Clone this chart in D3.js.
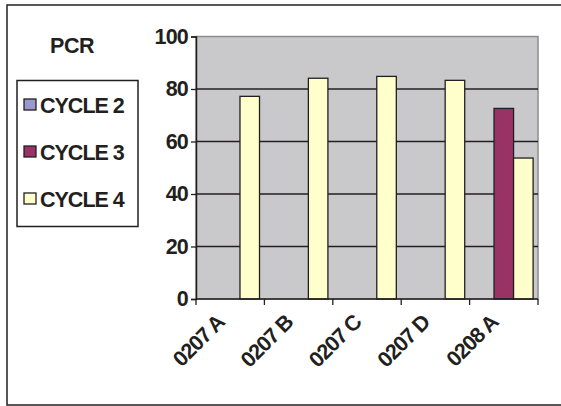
<!DOCTYPE html>
<html><head><meta charset="utf-8">
<script src="https://cdn.jsdelivr.net/npm/d3@7"></script>
<style>body{margin:0;background:#fff}svg{display:block}text{font-family:"Liberation Sans",Arial,sans-serif;font-weight:bold;fill:#231f20}</style>
</head><body>
<svg id="c" width="561" height="406"></svg>
<script>
const categories = ["0207 A","0207 B","0207 C","0207 D","0208 A"];
const seriesNames = ["CYCLE 2","CYCLE 3","CYCLE 4"];
const cycle2 = [null,null,null,null,null];
const cycle3 = [null,null,null,null,72.6];
const cycle4 = [77.2,84.1,84.8,83.3,53.7];
const yTicks = [0,20,40,60,80,100];
const colors = ["#9999cc","#993366","#ffffcc"];
const title = "PCR";

const svg = d3.select("#c");
const L=196,R=538,T=36.5,B=299;
const FS="21.5px";
// outer frame
svg.append("rect").attr("x",7).attr("y",5).attr("width",560).attr("height",400)
  .attr("fill","#fff").attr("stroke","#231f20").attr("stroke-width",1.5);

const x = d3.scaleBand().domain(categories).range([L,R]).paddingInner(0).paddingOuter(0);
const xs = d3.scaleBand().domain(seriesNames).range([0,x.bandwidth()]).paddingInner(0).paddingOuter(0.25);
const y = d3.scaleLinear().domain([0,100]).range([B,T]);

svg.append("rect").attr("x",L).attr("y",T).attr("width",R-L).attr("height",B-T)
  .attr("fill","#c9c9cb").attr("stroke","#8c8c8c").attr("stroke-width",1.5);

// gridlines
svg.append("g").selectAll("line").data(yTicks.filter(d=>d>0&&d<100)).join("line")
  .attr("x1",L).attr("x2",R).attr("y1",d=>y(d)).attr("y2",d=>y(d))
  .attr("stroke","#231f20").attr("stroke-width",1.3);

const series=[cycle2,cycle3,cycle4];
series.forEach((vals,si)=>{
  svg.append("g").selectAll("rect").data(categories.map((c,i)=>({c,v:vals[i]})).filter(d=>d.v!=null)).join("rect")
    .attr("x",d=>x(d.c)+xs(seriesNames[si]))
    .attr("width",xs.bandwidth())
    .attr("y",d=>y(d.v)).attr("height",d=>y(0)-y(d.v))
    .attr("fill",colors[si]).attr("stroke","#231f20").attr("stroke-width",1.3);
});

// y axis
const ya = svg.append("g").attr("transform",`translate(${L},0)`)
  .call(d3.axisLeft(y).tickValues(yTicks).tickSize(5).tickPadding(3));
ya.select(".domain").attr("stroke","#231f20").attr("stroke-width",1.5);
ya.selectAll(".tick line").attr("stroke","#231f20").attr("stroke-width",1.3);
ya.selectAll("text").attr("font-size",FS).attr("letter-spacing","-0.8px").style("font-family","Liberation Sans, Arial").style("font-weight","bold").attr("fill","#231f20");

// x axis
const xa = svg.append("g").attr("transform",`translate(0,${B})`);
xa.append("line").attr("x1",L).attr("x2",R).attr("stroke","#231f20").attr("stroke-width",1.5);
xa.selectAll("line.t").data(d3.range(categories.length+1)).join("line").attr("class","t")
  .attr("x1",i=>L+i*x.bandwidth()).attr("x2",i=>L+i*x.bandwidth()).attr("y1",0).attr("y2",6)
  .attr("stroke","#231f20").attr("stroke-width",1.3);
xa.selectAll("text").data(categories).join("text")
  .attr("transform",d=>`translate(${x(d)+x.bandwidth()/2-15},${14}) rotate(-45)`)
  .attr("text-anchor","end").attr("dy","0.7em").attr("font-size",FS).attr("letter-spacing","-1px")
  .text(d=>d);

// title
svg.append("text").attr("x",72).attr("y",53).attr("text-anchor","middle").attr("font-size",FS).attr("letter-spacing","-0.5px").text(title);

// legend
svg.append("rect").attr("x",17).attr("y",80.5).attr("width",121).attr("height",146)
  .attr("fill","#fff").attr("stroke","#231f20").attr("stroke-width",1.5);
const lg = svg.append("g").selectAll("g").data(seriesNames).join("g")
  .attr("transform",(d,i)=>`translate(24,${105+i*47})`);
lg.append("rect").attr("x",0).attr("y",-6).attr("width",12).attr("height",11)
  .attr("fill",(d,i)=>colors[i]).attr("stroke","#231f20").attr("stroke-width",1.3);
lg.append("text").attr("x",16).attr("y",0).attr("dy","0.36em").attr("font-size",FS).attr("letter-spacing","-1px").text(d=>d);
</script>
</body></html>
